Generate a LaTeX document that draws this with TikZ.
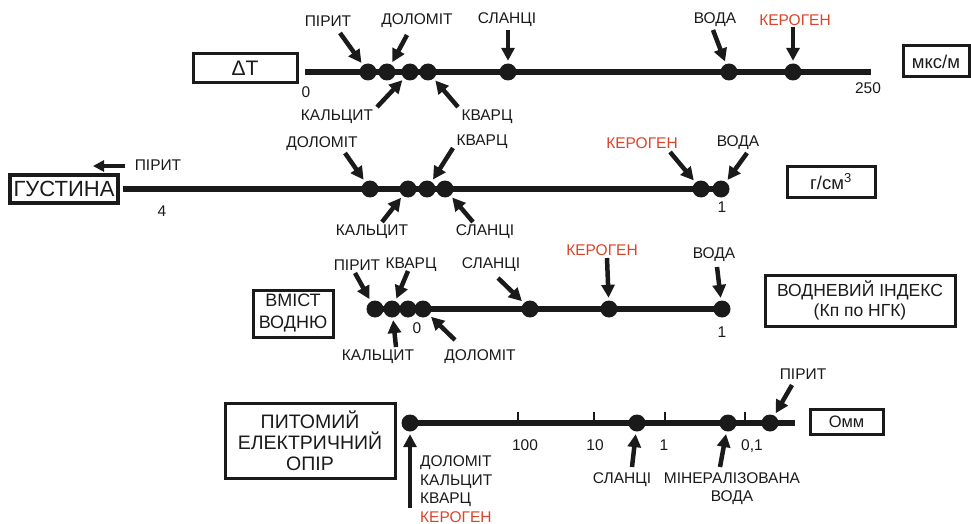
\documentclass[tikz,border=0pt]{standalone}
\usepackage{fontspec}
\setmainfont{Liberation Sans}
\usetikzlibrary{arrows.meta}
\definecolor{ink}{HTML}{1A1A1A}
\definecolor{kero}{HTML}{D9452B}
\tikzset{
  axis/.style={line width=6.5pt, draw=ink},
  dot/.style={circle, fill=ink, inner sep=0pt, minimum size=17pt},
  ptr/.style={line width=4.5pt, draw=ink, -{Triangle[length=13pt,width=13pt]}, shorten >=2.5pt},
  lbl/.style={font=\fontsize{15.5}{18}\selectfont, text=ink, inner sep=0pt},
  redlbl/.style={lbl, text=kero},
  unitbox/.style={draw=ink, line width=3pt, inner sep=0pt, text=ink, align=center},
  tick/.style={line width=2.2pt, draw=ink},
}
\begin{document}
\begin{tikzpicture}[x=1pt, y=-1pt]
\useasboundingbox (0,0) rectangle (971,524);

% ---------- Delta T scale ----------
\node[unitbox, minimum width=104pt, minimum height=29pt, font=\fontsize{21}{24}\selectfont] (boxdt) at (245,68.5) {ΔT};
\node[unitbox, minimum width=66pt, minimum height=31pt, font=\fontsize{18.5}{21}\selectfont] (boxmks) at (936,61.5) {мкс/м};
\coordinate (a1s) at (305,72);
\coordinate (a1e) at (871,72);
\draw[axis] (a1s) -- (a1e);
\node[dot] (p1) at (368,72) {};
\node[dot] (d1) at (387,72) {};
\node[dot] (c1) at (410,72) {};
\node[dot] (k1) at (428,72) {};
\node[dot] (s1) at (508,72) {};
\node[dot] (w1) at (729,72) {};
\node[dot] (g1) at (793,72) {};
\node[lbl] (n0a) at (306,92) {0};
\node[lbl] (n250) at (868,88) {250};
\node[lbl] (lp1) at (328,21) {ПІРИТ};
\node[lbl] (ld1) at (417,21) {ДОЛОМІТ};
\node[lbl] (ls1) at (507,20) {СЛАНЦІ};
\node[lbl] (lw1) at (715,20) {ВОДА};
\node[redlbl] (lg1) at (795,20) {КЕРОГЕН};
\node[lbl] (lc1) at (337,117) {КАЛЬЦИТ};
\node[lbl] (lk1) at (487,117) {КВАРЦ};
\coordinate (tp1) at (340,33);
\coordinate (td1) at (407,35);
\coordinate (ts1) at (508,30);
\coordinate (tw1) at (713,30);
\coordinate (tg1) at (793,27);
\coordinate (tc1) at (377,107);
\coordinate (tk1) at (458,107);
\draw[ptr] (tp1) -- (p1);
\draw[ptr] (td1) -- (d1);
\draw[ptr] (ts1) -- (s1);
\draw[ptr] (tw1) -- (w1);
\draw[ptr] (tg1) -- (g1);
\draw[ptr] (tc1) -- (c1);
\draw[ptr] (tk1) -- (k1);

% ---------- Density scale ----------
\node[unitbox, line width=3.5pt, minimum width=108pt, minimum height=28pt, font=\fontsize{22}{26}\selectfont] (boxro) at (64,189) {ГУСТИНА};
\node[unitbox, minimum width=88pt, minimum height=31pt, font=\fontsize{18.5}{21}\selectfont] (boxgcm) at (831,181.5) {г/см\textsuperscript{3}};
\coordinate (a2s) at (123,189);
\node[dot] (d2) at (370,189) {};
\node[dot] (c2) at (408,189) {};
\node[dot] (k2) at (427,189) {};
\node[dot] (s2) at (445,189) {};
\node[dot] (g2) at (701,189) {};
\node[dot] (w2) at (721,189) {};
\draw[axis] (a2s) -- (w2.center);
\node[lbl] (n4) at (162,211) {4};
\node[lbl] (n1b) at (722,207) {1};
\node[lbl] (lp2) at (158,165) {ПІРИТ};
\coordinate (tp2a) at (125,166);
\coordinate (tp2b) at (93,166);
\draw[ptr, line width=4pt, -{Triangle[length=11pt,width=11pt]}, shorten >=0pt] (tp2a) -- (tp2b);
\node[lbl] (ld2) at (322,144) {ДОЛОМІТ};
\node[lbl] (lk2) at (482,142) {КВАРЦ};
\node[lbl] (lc2) at (372,232) {КАЛЬЦИТ};
\node[lbl] (ls2) at (485,232) {СЛАНЦІ};
\node[redlbl] (lg2) at (642,143) {КЕРОГЕН};
\node[lbl] (lw2) at (738,143) {ВОДА};
\coordinate (td2) at (345,153);
\coordinate (tk2) at (453,148);
\coordinate (tc2) at (382,222);
\coordinate (ts2) at (473,222);
\coordinate (tg2) at (670,152);
\coordinate (tw2) at (747,153);
\draw[ptr] (td2) -- (d2);
\draw[ptr] (tk2) -- (k2);
\draw[ptr] (tc2) -- (c2);
\draw[ptr] (ts2) -- (s2);
\draw[ptr] (tg2) -- (g2);
\draw[ptr] (tw2) -- (w2);

% ---------- Hydrogen content scale ----------
\node[unitbox, minimum width=80pt, minimum height=47pt, font=\fontsize{18}{22}\selectfont] (boxh) at (293,313.5) {ВМІСТ\\ВОДНЮ};
\node[unitbox, minimum width=190pt, minimum height=51pt, font=\fontsize{17.5}{20}\selectfont] (boxhi) at (860,300.5) {ВОДНЕВИЙ ІНДЕКС\\(Кп по НГК)};
\node[dot] (p3) at (375,309) {};
\node[dot] (k3) at (392,309) {};
\node[dot] (c3) at (408,309) {};
\node[dot] (d3) at (423,309) {};
\node[dot] (s3) at (530,309) {};
\node[dot] (g3) at (609,309) {};
\node[dot] (w3) at (722,309) {};
\draw[axis] (p3.center) -- (w3.center);
\node[lbl] (n0c) at (417,328) {0};
\node[lbl] (n1c) at (722,332) {1};
\node[lbl] (lp3) at (357,265) {ПІРИТ};
\node[lbl] (lk3) at (411,265) {КВАРЦ};
\node[lbl] (ls3) at (491,265) {СЛАНЦІ};
\node[redlbl] (lg3) at (602,250) {КЕРОГЕН};
\node[lbl] (lw3) at (714,255) {ВОДА};
\node[lbl] (lc3) at (378,357) {КАЛЬЦИТ};
\node[lbl] (ld3) at (480,357) {ДОЛОМІТ};
\coordinate (tp3) at (355,273);
\coordinate (tk3) at (408,271);
\coordinate (ts3) at (498,278);
\coordinate (tg3) at (607,258);
\coordinate (tw3) at (717,267);
\coordinate (tc3) at (396,347);
\coordinate (td3) at (455,340);
\draw[ptr] (tp3) -- (p3);
\draw[ptr] (tk3) -- (k3);
\draw[ptr] (ts3) -- (s3);
\draw[ptr] (tg3) -- (g3);
\draw[ptr] (tw3) -- (w3);
\draw[ptr] (tc3) -- (k3);
\draw[ptr] (td3) -- (d3);

% ---------- Resistivity scale ----------
\node[unitbox, minimum width=170pt, minimum height=75pt, font=\fontsize{19.5}{21}\selectfont] (boxr) at (310,440.5) {ПИТОМИЙ\\ЕЛЕКТРИЧНИЙ\\ОПІР};
\node[unitbox, minimum width=73pt, minimum height=25pt, font=\fontsize{16.5}{20}\selectfont] (boxohm) at (846.5,421.5) {Омм};
\node[dot] (a4) at (410,423) {};
\node[dot] (s4) at (637,423) {};
\node[dot] (m4) at (728,423) {};
\node[dot] (p4) at (770,423) {};
\coordinate (a4e) at (795,423);
\draw[axis] (a4.center) -- (a4e);
\foreach \tx in {518,594,665,745} \draw[tick] (\tx,424) -- (\tx,412);
\node[lbl] (n100) at (525,445) {100};
\node[lbl] (n10) at (595,445) {10};
\node[lbl] (n1d) at (664,445) {1};
\node[lbl] (n01) at (752,446) {0,1};
\node[lbl, anchor=west] (l4a) at (420,463) {ДОЛОМІТ};
\node[lbl, anchor=west] (l4b) at (420,482) {КАЛЬЦИТ};
\node[lbl, anchor=west] (l4c) at (420,500) {КВАРЦ};
\node[redlbl, anchor=west] (l4d) at (420,517) {КЕРОГЕН};
\node[lbl] (ls4) at (622,480) {СЛАНЦІ};
\node[lbl, align=center, font=\fontsize{15.5}{18}\selectfont] (lm4) at (732,489) {МІНЕРАЛІЗОВАНА\\ВОДА};
\node[lbl] (lp4) at (803,374) {ПІРИТ};
\coordinate (ta4) at (410,508);
\coordinate (ts4) at (632,467);
\coordinate (tm4) at (720,467);
\coordinate (tp4) at (792,385);
\draw[ptr] (ta4) -- (a4);
\draw[ptr] (ts4) -- (s4);
\draw[ptr] (tm4) -- (m4);
\draw[ptr] (tp4) -- (p4);
\end{tikzpicture}
\end{document}
